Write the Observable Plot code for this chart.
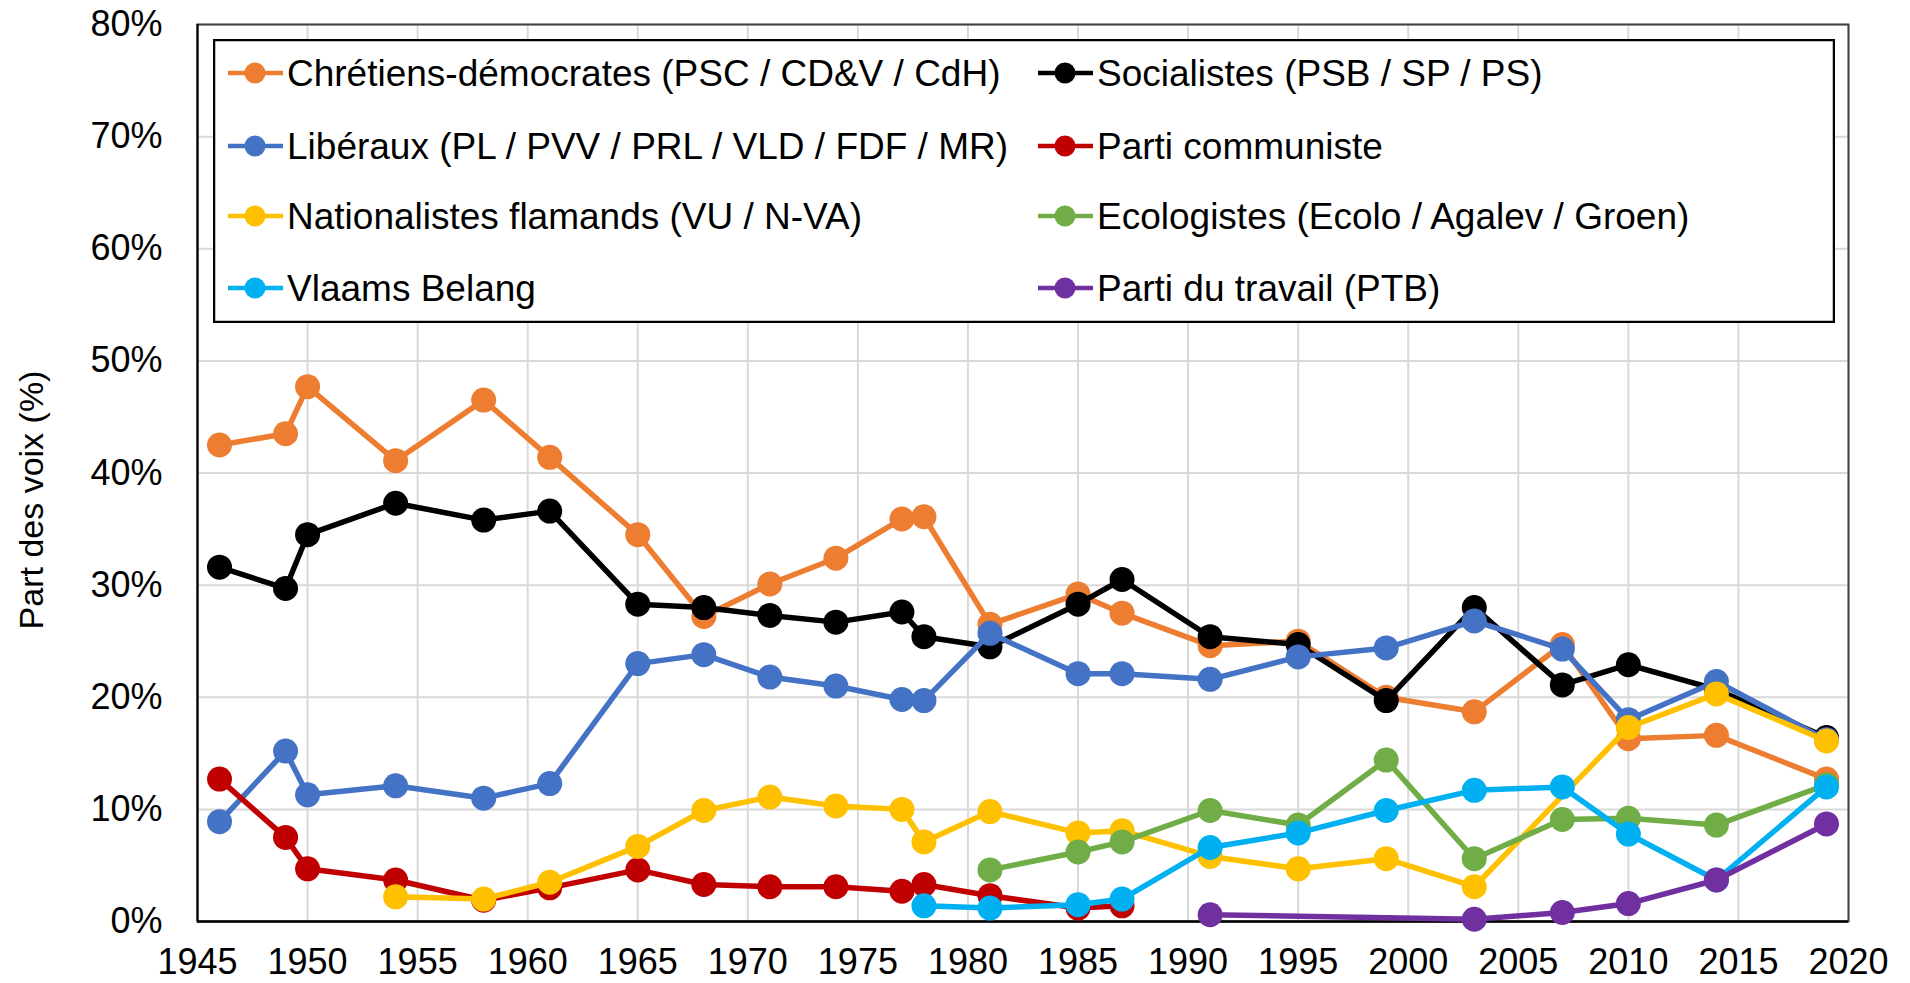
<!DOCTYPE html>
<html>
<head>
<meta charset="utf-8">
<script src="https://cdn.jsdelivr.net/npm/d3@7"></script>
<script src="https://cdn.jsdelivr.net/npm/@observablehq/plot@0.6"></script>
<style>
  html, body { margin: 0; padding: 0; background: #fff; overflow: hidden; }
  #wrap { position: relative; width: 1910px; height: 983px; }
  #legend { position: absolute; left: 213px; top: 39px; }
</style>
</head>
<body>
<div id="wrap"></div>
<script>
// ---- Data (share of votes, %) ----
const years = [1946, 1949, 1950, 1954, 1958, 1961, 1965, 1968, 1971, 1974, 1977, 1978, 1981, 1985, 1987, 1991, 1995, 1999, 2003, 2007, 2010, 2014, 2019];

const chretiens    = [42.5, 43.5, 47.7, 41.1, 46.5, 41.4, 34.5, 27.2, 30.1, 32.4, 35.9, 36.1, 26.5, 29.2, 27.5, 24.6, 25.0, 20.0, 18.7, 24.7, 16.3, 16.6, 12.7];
const socialistes  = [31.6, 29.7, 34.5, 37.3, 35.8, 36.6, 28.3, 28.0, 27.3, 26.7, 27.6, 25.4, 24.5, 28.3, 30.5, 25.4, 24.7, 19.7, 28.0, 21.1, 22.9, 20.7, 16.4];
const liberaux     = [8.9, 15.2, 11.3, 12.1, 11.0, 12.3, 23.0, 23.8, 21.8, 21.0, 19.8, 19.7, 25.7, 22.1, 22.1, 21.6, 23.6, 24.4, 26.8, 24.3, 18.0, 21.4, 16.2];
const communistes  = [12.7, 7.5, 4.7, 3.7, 1.9, 3.0, 4.6, 3.3, 3.1, 3.1, 2.7, 3.3, 2.3, 1.2, 1.4, null, null, null, null, null, null, null, null];
const nationalistes= [null, null, null, 2.2, 2.0, 3.5, 6.7, 9.9, 11.1, 10.3, 10.0, 7.1, 9.8, 7.9, 8.1, 5.8, 4.7, 5.6, 3.1, null, 17.3, 20.3, 16.1];
const ecologistes  = [null, null, null, null, null, null, null, null, null, null, null, null, 4.6, 6.2, 7.1, 9.9, 8.6, 14.4, 5.6, 9.1, 9.2, 8.6, 12.2];
const vlaamsBelang = [null, null, null, null, null, null, null, null, null, null, null, 1.4, 1.2, 1.5, 2.0, 6.6, 7.9, 9.9, 11.7, 12.0, 7.8, 3.7, 12.0];
const ptb          = [null, null, null, null, null, null, null, null, null, null, null, null, null, null, null, 0.6, null, null, 0.2, 0.8, 1.6, 3.7, 8.7];

const seriesNames = [
  "Chrétiens-démocrates (PSC / CD&V / CdH)",
  "Socialistes (PSB / SP / PS)",
  "Libéraux (PL / PVV / PRL / VLD / FDF / MR)",
  "Parti communiste",
  "Nationalistes flamands (VU / N-VA)",
  "Ecologistes (Ecolo / Agalev / Groen)",
  "Vlaams Belang",
  "Parti du travail (PTB)"
];
const seriesColors = ["#ED7D31", "#000000", "#4472C4", "#C00000", "#FFC000", "#70AD47", "#00B0F0", "#7030A0"];
const seriesValues = [chretiens, socialistes, liberaux, communistes, nationalistes, ecologistes, vlaamsBelang, ptb];

const xTicks = d3.range(1945, 2021, 5);
const yTicks = d3.range(0, 81, 10);
const yTitle = "Part des voix (%)";

// ---- Build long table ----
const rows = [];
seriesNames.forEach((name, k) => {
  years.forEach((yr, i) => {
    const v = seriesValues[k][i];
    if (v != null) rows.push({series: name, year: yr, value: v});
  });
});

const FONT = "'Liberation Sans', Arial, Helvetica, sans-serif";

const marks = [
  Plot.gridX(xTicks, {stroke: "#d9d9d9", strokeOpacity: 1, strokeWidth: 2}),
  Plot.gridY(yTicks, {stroke: "#d9d9d9", strokeOpacity: 1, strokeWidth: 2}),
  Plot.frame({stroke: "#404040", strokeWidth: 2}),
  Plot.ruleY([0], {stroke: "#000", strokeWidth: 2.5}),
  Plot.ruleX([1945], {stroke: "#000", strokeWidth: 2}),
  Plot.axisX(xTicks, {tickSize: 0, tickPadding: 27, tickFormat: d => String(d), label: null, fontSize: 36}),
  Plot.axisY(yTicks, {tickSize: 0, tickPadding: 35, tickFormat: d => d + "%", label: null, fontSize: 36})
];

seriesNames.forEach((name, k) => {
  const d = rows.filter(r => r.series === name);
  marks.push(Plot.line(d, {x: "year", y: "value", stroke: seriesColors[k], strokeWidth: 5.5}));
  marks.push(Plot.dot(d, {x: "year", y: "value", fill: seriesColors[k], stroke: "none", r: 12.5}));
});

const chart = Plot.plot({
  width: 1910,
  height: 983,
  marginLeft: 197,
  marginRight: 62,
  marginTop: 24,
  marginBottom: 62,
  x: {domain: [1945, 2020]},
  y: {domain: [0, 80]},
  style: {fontFamily: FONT, fontSize: "36px", color: "#000", background: "#fff"},
  marks
});

// Y-axis title (rotated)
d3.select(chart).append("text")
  .attr("transform", "translate(43,500) rotate(-90)")
  .attr("text-anchor", "middle")
  .attr("font-size", 34)
  .attr("fill", "#000")
  .text(yTitle);

const wrap = document.getElementById("wrap");
wrap.appendChild(chart);

// ---- Legend (inside plot area, white box with black border) ----
const LW = 1622, LH = 284;
const legend = d3.create("svg")
  .attr("id", "legend")
  .attr("width", LW)
  .attr("height", LH)
  .style("font-family", FONT)
  .style("font-size", "37px");

legend.append("rect")
  .attr("x", 1).attr("y", 1)
  .attr("width", LW - 2).attr("height", LH - 2)
  .attr("fill", "#fff").attr("stroke", "#000").attr("stroke-width", 2.5);

const rowY = [34, 107, 177, 249];
const colX = [15, 825];
seriesNames.forEach((name, k) => {
  const col = k % 2, row = Math.floor(k / 2);
  const x0 = colX[col], cy = rowY[row];
  const g = legend.append("g");
  g.append("line")
    .attr("x1", x0).attr("x2", x0 + 55)
    .attr("y1", cy).attr("y2", cy)
    .attr("stroke", seriesColors[k]).attr("stroke-width", 4.5);
  g.append("circle")
    .attr("cx", x0 + 27).attr("cy", cy).attr("r", 10.5)
    .attr("fill", seriesColors[k]);
  g.append("text")
    .attr("x", x0 + 59).attr("y", cy + 13)
    .attr("fill", "#000")
    .text(name);
});

wrap.appendChild(legend.node());
</script>
</body>
</html>
